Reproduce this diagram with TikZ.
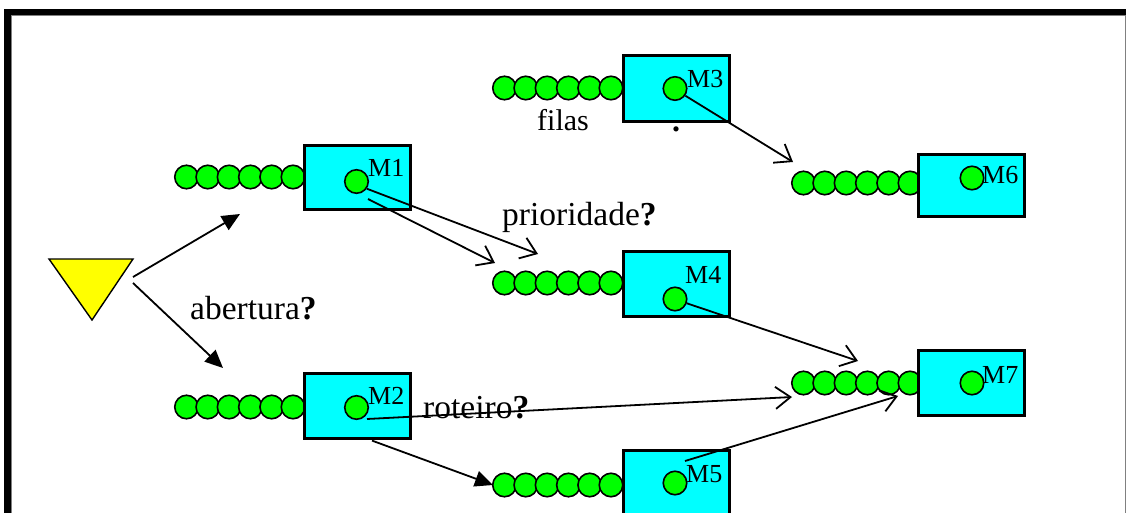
\documentclass[tikz,border=0pt]{standalone}
\usepackage{fontspec}
\setmainfont{Liberation Serif}
\usetikzlibrary{arrows.meta,calc}
\definecolor{qgreen}{RGB}{0,255,0}
\definecolor{mcyan}{RGB}{0,255,255}
\definecolor{tyellow}{RGB}{255,255,0}

% a queue of six parts waiting in front of a machine
\newcommand\partqueue[3]{%
  \foreach \k in {0,...,5}
    \node[qball] (#1-\k) at ({#2+11.5+21.3*\k},#3) {};}
% machine: name, left, top, height, ball x, ball y, label x, label baseline, label
\newcommand\machine[9]{%
  \node[mbox, minimum height=#4pt] (#1) at (#2,#3) {};
  \node[qball] (#1b) at (#5,#6) {};
  \node[mlabel] (#1l) at (#7,#8) {#9};}

\begin{document}
\begin{tikzpicture}[x=1pt,y=-1pt,
  qball/.style={circle, draw=black, line width=1.6pt, fill=qgreen,
    minimum size=23.5pt, inner sep=0pt},
  mbox/.style={rectangle, draw=black, line width=2.6pt, fill=mcyan,
    minimum width=106pt, inner sep=0pt, anchor=north west},
  mlabel/.style={font=\fontsize{26}{26}\selectfont, anchor=base west, inner sep=0pt},
  word/.style={font=\fontsize{33.5}{33.5}\selectfont, anchor=base west, inner sep=0pt},
  flow/.style={line width=1.8pt,
    -{Straight Barb[length=15pt,width=22pt,line width=1.8pt]}},
  feed/.style={line width=1.8pt, -{Triangle[length=18pt,width=16pt]}},
]
\useasboundingbox (0,0) rectangle (1126,513);
\clip (0,0) rectangle (1126,513);
\fill[white] (0,0) rectangle (1126,513);

% frame
\fill[black] (4,9) rectangle (1126,15);
\fill[black] (4,9) rectangle (11,513);
\draw[gray, line width=1pt] (11.5,513) -- (11.5,15.5) -- (1126,15.5);
\draw[gray, line width=1pt] (1125.5,15.5) -- (1125.5,513);

% arrival point
\draw[fill=tyellow, line width=1.4pt, line join=miter]
  (49,259) -- (133,259) -- (92,320) -- cycle;
\coordinate (src1) at (133,277);
\coordinate (src2) at (133,283);

% queues
\partqueue{q1}{175}{177}
\partqueue{q2}{175}{407}
\partqueue{q3}{493}{88}
\partqueue{q4}{493}{283}
\partqueue{q5}{493}{485}
\partqueue{q6}{792}{183}
\partqueue{q7}{792}{383}

% machines
\machine{m1}{303}{144}{64}{356.5}{181.5}{368}{177}{M1}
\machine{m2}{303}{372}{65}{356.5}{407.5}{368}{404}{M2}
\machine{m3}{622}{54}{66}{675}{88.5}{687}{88}{M3}
\machine{m4}{622}{250}{65}{675}{299}{685}{283}{M4}
\machine{m5}{622}{449}{70}{675}{483}{686}{482}{M5}
\machine{m6}{917}{153}{62}{972}{178}{982}{183}{M6}
\machine{m7}{917}{349}{65}{972}{383}{982}{383}{M7}

% texts
\node[word] (abertura) at (190,319) {abertura\textbf{?}};
\node[word] (prio) at (502,225) {prioridade\textbf{?}};
\node[word] (rot) at (423,418) {roteiro\textbf{?}};
\node[word, font=\fontsize{30}{30}\selectfont] (filas) at (537,131) {filas};
\node[mlabel, font=\fontsize{32}{32}\selectfont\bfseries] (dot) at (672,132) {.};

% arrow targets
\coordinate (toq1) at (240,214);
\coordinate (toq2) at (223,368);
\coordinate (toq4a) at (538,254);
\coordinate (toq4b) at (495,263);
\coordinate (toq6) at (793,162);
\coordinate (toq7a) at (858,361);
\coordinate (toq7b) at (792,397);
\coordinate (toq7c) at (898,396);
\coordinate (toq5) at (493,485);

% connectors
\draw[feed] (src1) -- (toq1);
\draw[feed] (src2) -- (toq2);
\draw[flow] (m1b.-35) -- (toq4a);
\draw[flow] ($(m1b)+(11.5,17.5)$) -- (toq4b);
\draw[flow] (m3b.-35) -- (toq6);
\draw[flow] (m4b.-20) -- (toq7a);
\draw[flow] ($(m2b)+(10.5,11.5)$) -- (toq7b);
\draw[flow] ($(m5b)+(10,-22)$) -- (toq7c);
\draw[feed] ($(m2.south west)+(69,1)$) -- (toq5);
\end{tikzpicture}
\end{document}
